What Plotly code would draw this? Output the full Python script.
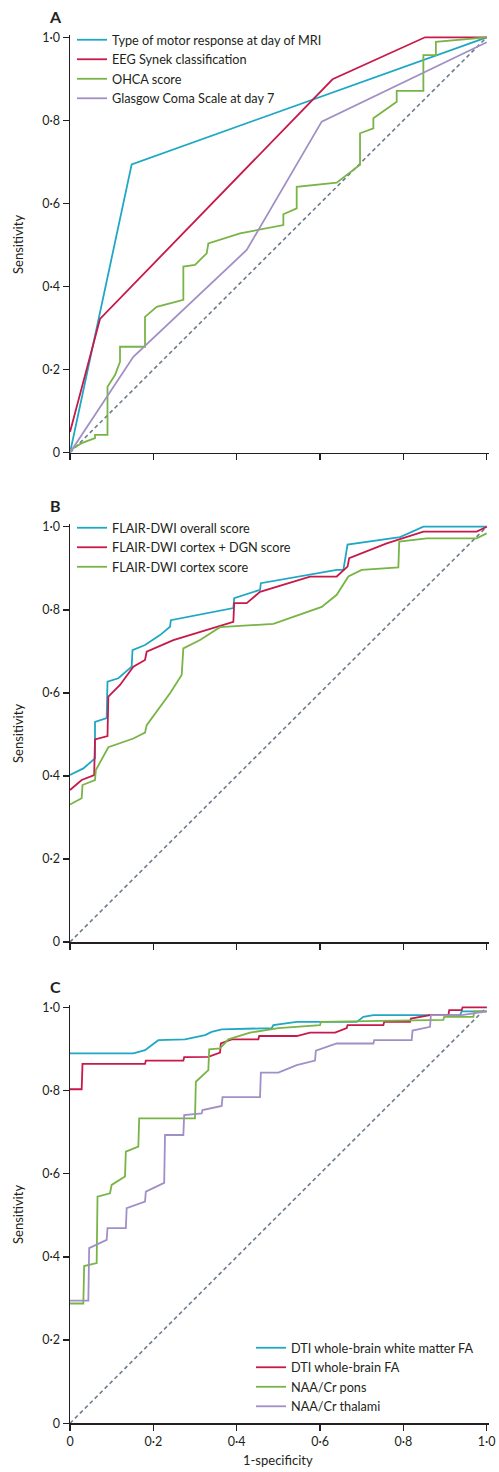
import plotly.graph_objects as go

# ---------------- Data ----------------
tick_vals = [0, 0.2, 0.4, 0.6, 0.8, 1.0]
tick_text = ["0", "0·2", "0·4", "0·6", "0·8", "1·0"]

# Panel A
motor_x = [0, 0.148, 1.0]
motor_y = [0, 0.694, 1.0]
eeg_x = [0, 0.072, 0.630, 0.852, 1.0]
eeg_y = [0.05, 0.322, 0.899, 1.0, 1.0]
ohca_x = [0, 0.028, 0.06, 0.06, 0.09, 0.09, 0.108, 0.12, 0.12, 0.18, 0.18, 0.208, 0.272, 0.272, 0.30,
          0.328, 0.332, 0.408, 0.512, 0.512, 0.544, 0.544, 0.64, 0.696, 0.696, 0.728, 0.728, 0.784,
          0.784, 0.848, 0.848, 0.878, 0.878, 1.0]
ohca_y = [0.006, 0.023, 0.035, 0.043, 0.043, 0.159, 0.187, 0.219, 0.255, 0.255, 0.327, 0.351, 0.368, 0.448, 0.452,
          0.48, 0.504, 0.528, 0.548, 0.574, 0.588, 0.64, 0.65, 0.693, 0.769, 0.781, 0.805, 0.845,
          0.871, 0.871, 0.957, 0.957, 0.989, 1.0]
gcs_x = [0, 0.152, 0.424, 0.604, 1.0]
gcs_y = [0, 0.231, 0.488, 0.797, 0.988]

# Panel B
overall_x = [0, 0.032, 0.06, 0.06, 0.088, 0.09, 0.116, 0.148, 0.15, 0.18, 0.216, 0.24, 0.242, 0.392, 0.394,
             0.456, 0.458, 0.64, 0.656, 0.666, 0.792, 0.848, 1.0]
overall_y = [0.402, 0.418, 0.442, 0.53, 0.539, 0.627, 0.635, 0.663, 0.703, 0.715, 0.739, 0.759, 0.775, 0.804, 0.828,
             0.848, 0.864, 0.896, 0.896, 0.957, 0.975, 1.0, 1.0]
cxdgn_x = [0, 0.028, 0.058, 0.06, 0.09, 0.092, 0.12, 0.152, 0.18, 0.184, 0.248, 0.392, 0.394, 0.424, 0.456,
           0.576, 0.64, 0.666, 0.67, 0.76, 0.848, 0.976, 1.0]
cxdgn_y = [0.366, 0.39, 0.402, 0.488, 0.496, 0.591, 0.619, 0.663, 0.679, 0.699, 0.727, 0.771, 0.816, 0.816, 0.843,
           0.88, 0.88, 0.904, 0.924, 0.96, 0.988, 0.988, 1.0]
cortex_x = [0, 0.028, 0.03, 0.06, 0.062, 0.092, 0.152, 0.18, 0.184, 0.24, 0.268, 0.272, 0.312, 0.36, 0.488,
            0.604, 0.64, 0.668, 0.70, 0.788, 0.79, 0.856, 0.976, 1.0]
cortex_y = [0.331, 0.346, 0.378, 0.39, 0.414, 0.469, 0.49, 0.504, 0.522, 0.599, 0.643, 0.707, 0.727, 0.758, 0.766,
            0.807, 0.836, 0.88, 0.896, 0.902, 0.964, 0.972, 0.972, 0.984]

# Panel C
wmfa_x = [0, 0.152, 0.18, 0.212, 0.276, 0.324, 0.34, 0.364, 0.484, 0.488, 0.544, 0.688, 0.704, 0.728, 0.936,
          0.94, 1.0]
wmfa_y = [0.889, 0.889, 0.897, 0.921, 0.923, 0.933, 0.941, 0.947, 0.95, 0.957, 0.965, 0.965, 0.977, 0.981, 0.981,
          0.99, 0.99]
wbfa_x = [0, 0.028, 0.03, 0.18, 0.182, 0.272, 0.274, 0.332, 0.36, 0.362, 0.388, 0.452, 0.454, 0.544, 0.576,
          0.636, 0.664, 0.666, 0.752, 0.754, 0.816, 0.818, 0.864, 0.908, 0.91, 0.94, 0.942, 1.0]
wbfa_y = [0.803, 0.803, 0.864, 0.864, 0.872, 0.872, 0.88, 0.881, 0.891, 0.913, 0.923, 0.923, 0.931, 0.931, 0.939,
          0.939, 0.95, 0.957, 0.957, 0.965, 0.965, 0.973, 0.981, 0.981, 0.993, 0.993, 1.0, 1.0]
pons_x = [0, 0.032, 0.034, 0.064, 0.066, 0.096, 0.10, 0.132, 0.134, 0.164, 0.166, 0.30, 0.302, 0.332, 0.334,
          0.36, 0.38, 0.432, 0.50, 0.60, 0.602, 0.896, 0.898, 0.968, 0.97, 1.0]
pons_y = [0.288, 0.288, 0.378, 0.385, 0.545, 0.553, 0.573, 0.593, 0.653, 0.665, 0.733, 0.733, 0.821, 0.849, 0.899,
          0.901, 0.923, 0.939, 0.95, 0.957, 0.965, 0.97, 0.977, 0.977, 0.99, 0.99]
thal_x = [0, 0.044, 0.046, 0.088, 0.09, 0.134, 0.136, 0.18, 0.182, 0.226, 0.228, 0.272, 0.274, 0.316, 0.318,
          0.364, 0.366, 0.456, 0.458, 0.50, 0.544, 0.588, 0.59, 0.64, 0.728, 0.73, 0.82, 0.822, 0.864, 0.866,
          0.94, 1.0]
thal_y = [0.295, 0.295, 0.421, 0.441, 0.469, 0.469, 0.517, 0.533, 0.557, 0.578, 0.693, 0.693, 0.741, 0.745, 0.753,
          0.763, 0.784, 0.784, 0.843, 0.843, 0.861, 0.872, 0.896, 0.913, 0.913, 0.921, 0.921, 0.944, 0.953, 0.981,
          0.981, 0.99]

ref_x = [0, 1]
ref_y = [0, 1]

# ---------------- Styling ----------------
CYAN = "#1fa8c4"
RED = "#c8194b"
GREEN = "#79b447"
PURPLE = "#a190c6"
REF = "#6c7d8e"
INK = "#231f20"
FONT = "Lato, 'Liberation Sans', Arial, sans-serif"
LW = 1.8

fig = go.Figure()


def add_line(x, y, name, color, ax, legend):
    fig.add_trace(go.Scatter(x=x, y=y, mode="lines", name=name,
                             line=dict(color=color, width=LW),
                             xaxis="x" + ax, yaxis="y" + ax, legend=legend,
                             hoverinfo="skip"))


def add_ref(ax):
    fig.add_trace(go.Scatter(x=ref_x, y=ref_y, mode="lines", showlegend=False,
                             line=dict(color=REF, width=1.6, dash="4px,3px"),
                             xaxis="x" + ax, yaxis="y" + ax, hoverinfo="skip"))


# panel A
add_ref("")
add_line(motor_x, motor_y, "Type of motor response at day of MRI", CYAN, "", "legend")
add_line(eeg_x, eeg_y, "EEG Synek classification", RED, "", "legend")
add_line(ohca_x, ohca_y, "OHCA score", GREEN, "", "legend")
add_line(gcs_x, gcs_y, "Glasgow Coma Scale at day 7", PURPLE, "", "legend")
# panel B
add_ref("2")
add_line(overall_x, overall_y, "FLAIR-DWI overall score", CYAN, "2", "legend2")
add_line(cxdgn_x, cxdgn_y, "FLAIR-DWI cortex + DGN score", RED, "2", "legend2")
add_line(cortex_x, cortex_y, "FLAIR-DWI cortex score", GREEN, "2", "legend2")
# panel C
add_ref("3")
add_line(wmfa_x, wmfa_y, "DTI whole-brain white matter FA", CYAN, "3", "legend3")
add_line(wbfa_x, wbfa_y, "DTI whole-brain FA", RED, "3", "legend3")
add_line(pons_x, pons_y, "NAA/Cr pons", GREEN, "3", "legend3")
add_line(thal_x, thal_y, "NAA/Cr thalami", PURPLE, "3", "legend3")

H = 1472.0
W = 499.0
XDOM = [70 / W, 488.8 / W]
doms = {
    "": [1 - 452.7 / H, 1 - 34.8 / H],
    "2": [1 - 942.0 / H, 1 - 524.2 / H],
    "3": [1 - 1423.3 / H, 1 - 1004.8 / H],
}

axis_common = dict(showline=True, linecolor=INK, linewidth=1.5, ticks="outside", ticklen=6,
                   tickwidth=1.5, tickcolor=INK, showgrid=False, zeroline=False,
                   tickvals=tick_vals, ticktext=tick_text, fixedrange=True, automargin=False,
                   tickfont=dict(family=FONT, size=12.5, color=INK))

layout = dict(width=499, height=1472, margin=dict(l=0, r=0, t=0, b=0, autoexpand=False),
              paper_bgcolor="white", plot_bgcolor="white",
              font=dict(family=FONT, color=INK, size=13))
for key, dom in doms.items():
    xa = "xaxis" + key
    ya = "yaxis" + key
    layout[xa] = dict(axis_common, domain=XDOM, range=[0, 1.005], anchor="y" + key,
                      showticklabels=(key == "3"))
    layout[ya] = dict(axis_common, domain=dom, range=[0, 1.006], anchor="x" + key)

leg_common = dict(bgcolor="rgba(0,0,0,0)", font=dict(family=FONT, size=12.7, color=INK),
                  xanchor="left", yanchor="top", itemwidth=30, tracegroupgap=0,
                  itemclick=False, itemdoubleclick=False)
layout["legend"] = dict(leg_common, x=72 / W, y=1 - 25 / H)
layout["legend2"] = dict(leg_common, x=72 / W, y=1 - 513 / H)
layout["legend3"] = dict(leg_common, x=251 / W, y=1 - 1333 / H)

annotations = []
for label, ypx in [("A", 16), ("B", 505), ("C", 986)]:
    annotations.append(dict(text="<b>%s</b>" % label, x=55 / W, y=1 - ypx / H, xref="paper", yref="paper",
                            showarrow=False, xanchor="center", yanchor="middle",
                            font=dict(family=FONT, size=16, color=INK)))
for ypx in [245, 734, 1215]:
    annotations.append(dict(text="Sensitivity", x=18 / W, y=1 - ypx / H, xref="paper", yref="paper",
                            showarrow=False, textangle=-90, xanchor="center", yanchor="middle",
                            font=dict(family=FONT, size=13, color=INK)))
annotations.append(dict(text="1-specificity", x=278 / W, y=1 - 1460 / H, xref="paper", yref="paper",
                        showarrow=False, xanchor="center", yanchor="middle",
                        font=dict(family=FONT, size=13, color=INK)))
layout["annotations"] = annotations

fig.update_layout(**layout)
fig.write_html("out.html", config={"displayModeBar": False, "staticPlot": True},
               post_script="document.body.style.margin='0';")
